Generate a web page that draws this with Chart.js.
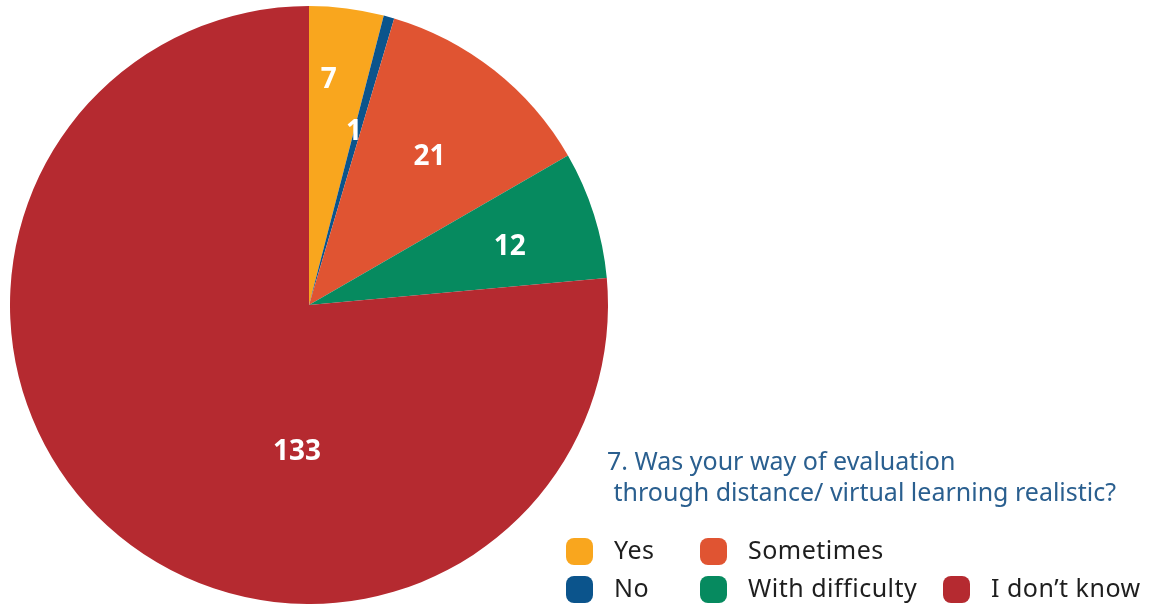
<!DOCTYPE html>
<html>
<head>
<meta charset="utf-8">
<script src="https://cdn.jsdelivr.net/npm/chart.js@4"></script>
<style>
  html, body { margin: 0; padding: 0; background: #fff; }
  #wrap { width: 1151px; height: 604px; position: relative; }
</style>
</head>
<body>
<div id="wrap"><canvas id="pie" width="1151" height="604"></canvas></div>
<script>
// survey answers
const categories = ['Yes', 'No', 'Sometimes', 'With difficulty', 'I don\u2019t know'];
const counts = [7, 1, 21, 12, 133];
const sliceColors = ['#F9A61E', '#0B548C', '#E05432', '#068A5F', '#B52A30'];
const questionLines = ['7. Was your way of evaluation', ' through distance/ virtual learning realistic?'];

// where each value label sits: [angle from top in degrees, fraction of radius]
const labelPlacement = [[5, 0.76], [14.5, 0.6], [39, 0.64], [73.5, 0.7], [184.7, 0.49]];

// legend layout: [box x, box y] per category
const legendSlots = [[566, 538], [566, 576], [700, 538], [700, 576], [943, 576]];

const FONT = '"Noto Sans", "Open Sans", sans-serif';

const valueLabels = {
    id: 'valueLabels',
    afterDatasetsDraw(chart) {
        const ctx = chart.ctx;
        const meta = chart.getDatasetMeta(0);
        ctx.save();
        ctx.fillStyle = '#fff';
        ctx.font = 'bold 28px ' + FONT;
        ctx.textAlign = 'center';
        ctx.textBaseline = 'middle';
        meta.data.forEach((arc, i) => {
            const [deg, frac] = labelPlacement[i];
            const a = deg * Math.PI / 180;
            const r = arc.outerRadius * frac;
            ctx.fillText(String(counts[i]), arc.x + Math.sin(a) * r, arc.y - Math.cos(a) * r + 1);
        });
        ctx.restore();
    }
};

const sideText = {
    id: 'sideText',
    afterDraw(chart) {
        const ctx = chart.ctx;
        ctx.save();
        // question
        ctx.fillStyle = '#2A5F8F';
        ctx.font = '25px ' + FONT;
        ctx.textBaseline = 'middle';
        ctx.textAlign = 'left';
        ctx.fillText(questionLines[0], 607, 463);
        ctx.fillText(questionLines[1], 607, 494);
        // legend
        ctx.font = '25px ' + FONT;
        ctx.letterSpacing = '0.5px';
        categories.forEach((name, i) => {
            const [x, y] = legendSlots[i];
            ctx.fillStyle = sliceColors[i];
            ctx.beginPath();
            ctx.roundRect(x, y, 27, 27, 8);
            ctx.fill();
            ctx.fillStyle = '#1e1e1e';
            ctx.fillText(name, x + 48, y + 14);
        });
        ctx.restore();
    }
};

new Chart(document.getElementById('pie'), {
    type: 'pie',
    data: {
        labels: categories,
        datasets: [{ data: counts, backgroundColor: sliceColors, borderWidth: 0 }]
    },
    options: {
        responsive: false,
        animation: false,
        layout: { padding: { left: 10, top: 6, right: 543, bottom: 0 } },
        plugins: { legend: { display: false }, tooltip: { enabled: false } }
    },
    plugins: [valueLabels, sideText]
});
</script>
</body>
</html>
